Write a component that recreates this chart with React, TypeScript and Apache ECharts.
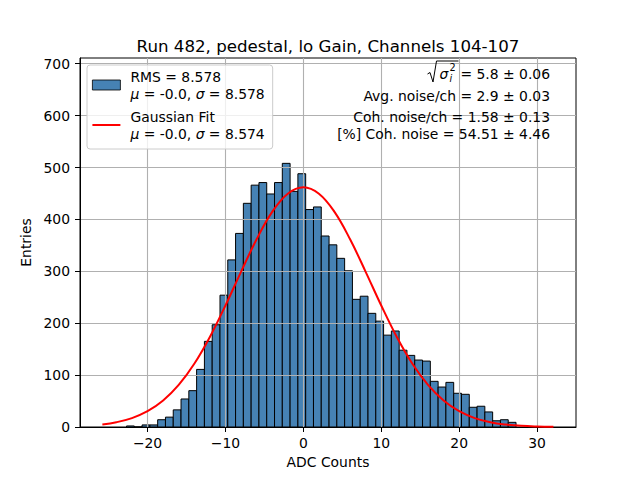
import { useEffect, useRef } from "react";
import * as echarts from "echarts";

// histogram: 50 bins of width 1, first left edge
const binStart = -22.7;
const binWidth = 1.0;
const counts = [
  2, 0, 4, 4, 14, 19, 33, 54, 70, 111, 165, 197, 254, 322, 373, 431, 466, 471,
  449, 471, 508, 454, 488, 419, 424, 368, 351, 325, 301, 246, 252, 219, 204,
  177, 185, 148, 138, 129, 127, 88, 77, 86, 65, 63, 38, 40, 29, 12, 14, 9,
];

// gaussian fit curve
const fitX = [
  -25.8, -24, -22, -20, -18, -16, -14, -12, -10, -8, -6, -4, -2, 0, 2, 4, 6, 8,
  10, 12, 14, 16, 18, 20, 22, 24, 26, 28, 30, 32.1,
];
const fitY = [
  5.0, 9.2, 17.2, 30.4, 51.0, 81.0, 121.8, 173.5, 234.1, 299.0, 361.6, 414.4,
  449.6, 462, 449.6, 414.4, 361.6, 299.0, 234.1, 173.5, 121.8, 81.0, 51.0, 30.4,
  17.2, 9.2, 4.7, 2.2, 1.0, 0.4,
];

const xTicks = [-20, -10, 0, 10, 20, 30];
const yTicks = [0, 100, 200, 300, 400, 500, 600, 700];

const histName = "RMS = 8.578";
const histSub = "{i|μ} = -0.0, {i|σ} = 8.578";
const fitName = "Gaussian Fit";
const fitSub = "{i|μ} = -0.0, {i|σ} = 8.574";

const statLines = [
  "Avg. noise/ch = 2.9 ± 0.03",
  "Coh. noise/ch = 1.58 ± 0.13",
  "[%] Coh. noise = 54.51 ± 4.46",
];

const FONT = '"DejaVu Sans", sans-serif';
const FS = 13.9;

const fmtTick = (v: number) => (v < 0 ? "\u2212" + Math.abs(v) : String(v));

export default function App() {
  const ref = useRef<HTMLDivElement>(null);

  useEffect(() => {
    if (!ref.current) return;
    const chart = echarts.init(ref.current, undefined, { renderer: "svg" });

    const histData = counts.map((c, i) => [
      binStart + i * binWidth,
      binStart + (i + 1) * binWidth,
      c,
    ]);
    const fitData = fitX.map((x, i) => [x, fitY[i]]);

    const txt = (text: string, x: number, y: number, extra: any = {}) => ({
      type: "text",
      x,
      y,
      z: 10,
      style: {
        text,
        fill: "#000",
        font: `${FS}px ${FONT}`,
        align: "right",
        verticalAlign: "middle",
        ...extra,
      },
    });

    chart.setOption({
      animation: false,
      backgroundColor: "#fff",
      title: {
        text: "Run 482, pedestal, lo Gain, Channels 104-107",
        left: 328,
        textAlign: "center",
        top: 38,
        padding: 0,
        textStyle: {
          fontFamily: FONT,
          fontSize: 16.67,
          fontWeight: "normal",
          color: "#000",
        },
      },
      grid: {
        left: 80,
        right: 64,
        top: 58,
        bottom: 53,
        show: true,
        borderColor: "#000",
        borderWidth: 1,
        backgroundColor: "transparent",
      },
      legend: {
        orient: "vertical",
        left: 87,
        top: 65,
        backgroundColor: "rgba(255,255,255,0.8)",
        borderColor: "#cccccc",
        borderWidth: 1,
        borderRadius: 3,
        padding: [3, 8, 7, 5],
        itemWidth: 28,
        itemHeight: 10,
        itemGap: 6,
        data: [
          {
            name: histName,
            icon: "rect",
            itemStyle: { color: "#4682b4", borderColor: "#000", borderWidth: 0.8 },
          },
          {
            name: fitName,
            icon: "path://M0,0 H28 V2 H0 Z",
            itemStyle: { color: "#ff0000", borderWidth: 0 },
          },
        ],
        formatter: (name: string) =>
          name === histName ? name + "\n" + histSub : name + "\n" + fitSub,
        textStyle: {
          fontFamily: FONT,
          fontSize: FS,
          color: "#000",
          lineHeight: 17,
          padding: [0, 0, 0, 5],
          rich: {
            i: {
              fontFamily: FONT,
              fontSize: FS,
              fontStyle: "italic",
              lineHeight: 17,
              color: "#000",
            },
          },
        },
      },
      xAxis: {
        type: "value",
        min: -28.67,
        max: 35.0,
        z: 3,
        name: "ADC Counts",
        nameLocation: "middle",
        nameGap: 28,
        nameTextStyle: { fontFamily: FONT, fontSize: FS, color: "#000" },
        axisLine: { show: true, onZero: false, lineStyle: { color: "#000", width: 1 } },
        axisTick: {
          show: true,
          length: 5,
          customValues: xTicks,
          lineStyle: { color: "#000", width: 1 },
        },
        axisLabel: {
          customValues: xTicks,
          margin: 9,
          fontFamily: FONT,
          fontSize: FS,
          color: "#000",
          formatter: fmtTick,
        },
        splitLine: { show: true, lineStyle: { color: "#b0b0b0", width: 1.1 } },
      },
      yAxis: {
        type: "value",
        min: 0,
        max: 711,
        interval: 100,
        z: 3,
        name: "Entries",
        nameLocation: "middle",
        nameGap: 36,
        nameTextStyle: { fontFamily: FONT, fontSize: FS, color: "#000" },
        axisLine: { show: true, onZero: false, lineStyle: { color: "#000", width: 1 } },
        axisTick: {
          show: true,
          length: 5,
          customValues: yTicks,
          lineStyle: { color: "#000", width: 1 },
        },
        axisLabel: {
          customValues: yTicks,
          margin: 10,
          fontFamily: FONT,
          fontSize: FS,
          color: "#000",
        },
        splitLine: { show: true, lineStyle: { color: "#b0b0b0", width: 1.1 } },
      },
      series: [
        {
          name: histName,
          type: "custom",
          z: 2,
          clip: true,
          itemStyle: { color: "#4682b4", borderColor: "#000", borderWidth: 1 },
          encode: { x: [0, 1], y: 2 },
          data: histData,
          renderItem: (params: any, api: any) => {
            const p0 = api.coord([api.value(0), api.value(2)]);
            const p1 = api.coord([api.value(1), 0]);
            return {
              type: "rect",
              shape: {
                x: p0[0],
                y: p0[1],
                width: p1[0] - p0[0],
                height: p1[1] - p0[1],
              },
              style: { fill: "#4682b4", stroke: "#000", lineWidth: 1 },
            };
          },
        },
        {
          name: fitName,
          type: "line",
          z: 4,
          smooth: 0.4,
          symbol: "none",
          showSymbol: false,
          lineStyle: { color: "#ff0000", width: 2 },
          itemStyle: { color: "#ff0000" },
          data: fitData,
        },
      ],
      graphic: [
        {
          type: "polyline",
          z: 10,
          shape: {
            points: [
              [427.5, 74],
              [430, 72.5],
              [433, 82],
              [436.5, 61],
              [458.5, 61],
            ],
          },
          style: { stroke: "#000", lineWidth: 1, fill: "none" },
        },
        txt("σ", 439.5, 73.5, { align: "left", font: `italic ${FS}px ${FONT}` }),
        txt("2", 449.5, 67, { align: "left", font: `9.7px ${FONT}` }),
        txt("i", 449.5, 78, { align: "left", font: `italic 9.7px ${FONT}` }),
        txt("= 5.8 ± 0.06", 550, 73.5),
        txt(statLines[0], 550, 95.7),
        txt(statLines[1], 550, 116.9),
        txt(statLines[2], 550, 133.6),
      ],
    });

    return () => chart.dispose();
  }, []);

  return <div ref={ref} style={{ width: 640, height: 480, margin: -8 }} />;
}
